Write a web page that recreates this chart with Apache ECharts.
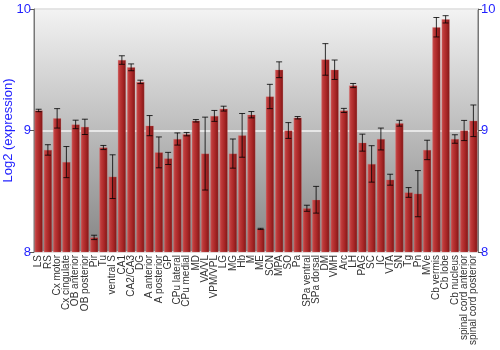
<!DOCTYPE html>
<html><head><meta charset="utf-8">
<script src="https://cdn.jsdelivr.net/npm/echarts@6/dist/echarts.min.js"></script>
<style>html,body{margin:0;padding:0;background:#fff}#c{width:500px;height:350px}</style>
</head><body><div id="c"></div>
<script>
var categories = ["LS","RS","Cx motor","Cx cingulate","OB anterior","OB posterior","Pir","Tu","ventral S","CA1","CA2/CA3","DG","A anterior","A posterior","GP","CPu lateral","CPu medial","MD","VA/VL","VPM/VPL","LG","MG","Hb","M","ME","SCN","MPA","SO","Pa","SPa ventral","SPa dorsal","DM","VMH","Arc","LH","PAG","SC","IC","VTA","SN","Tg","Pn","MVe","Cb vermis","Cb lobe","Cb nucleus","spinal cord anterior","spinal cord posterior"];
var values = [9.165,8.84,9.10,8.74,9.05,9.03,8.12,8.86,8.62,9.58,9.52,9.40,9.04,8.82,8.77,8.93,8.97,9.08,8.81,9.12,9.18,8.81,8.96,9.13,8.19,9.28,9.50,9.00,9.105,8.36,8.43,9.585,9.50,9.165,9.37,8.90,8.725,8.93,8.595,9.06,8.49,8.48,8.84,9.85,9.915,8.93,9.00,9.08];
var errors = [0.01,0.043,0.08,0.128,0.035,0.063,0.018,0.017,0.18,0.035,0.028,0.014,0.083,0.127,0.05,0.05,0.014,0.01,0.30,0.045,0.02,0.12,0.18,0.026,0.005,0.10,0.065,0.065,0.01,0.025,0.11,0.13,0.08,0.017,0.017,0.07,0.15,0.09,0.045,0.024,0.04,0.19,0.08,0.08,0.03,0.035,0.083,0.13];
var yTicks = [8, 9, 10];

var chart = echarts.init(document.getElementById('c'), null, {renderer:'canvas'});
var errData = values.map(function(v,i){ return [i, v - errors[i], v + errors[i]]; });
var blue = '#1f1fff';
var yAxisCommon = {
  type:'value', min:yTicks[0], max:yTicks[yTicks.length-1], interval:1,
  axisLine:{show:true, lineStyle:{color:'#777', width:1}},
  axisTick:{show:true, length:4, lineStyle:{color:'#555'}},
  axisLabel:{color:blue, fontSize:13, fontFamily:'Liberation Sans', margin:3},
  splitLine:{show:false}
};
chart.setOption({
  animation:false,
  grid:{left:34, right:22, top:9, bottom:98, show:true, borderColor:'#777', borderWidth:1,
    outerBoundsMode:'none', containLabel:false,
    backgroundColor:new echarts.graphic.LinearGradient(0,0,0,1,[{offset:0,color:'#f3f3f3'},{offset:1,color:'#858585'}])},
  xAxis:{type:'category', data:categories,
    axisLine:{show:false}, axisTick:{show:false},
    axisLabel:{interval:0, rotate:90, fontSize:10, color:'#333', fontFamily:'Liberation Sans', margin:3}},
  yAxis:[
    Object.assign({}, yAxisCommon, {position:'left', name:'Log2 (expression)', nameLocation:'middle', nameGap:19,
      nameMoveOverlap:false,
      nameTextStyle:{color:blue, fontSize:13, fontFamily:'Liberation Sans'},
      splitLine:{show:true, lineStyle:{color:'#f4f4f4', width:1.5}}}),
    Object.assign({}, yAxisCommon, {position:'right'})
  ],
  series:[
    {type:'bar', data:values, barCategoryGap:'12%', yAxisIndex:0,
      itemStyle:{color:new echarts.graphic.LinearGradient(0,0,1,0,[
        {offset:0,color:'#cc5555'},{offset:0.25,color:'#bc3838'},{offset:0.6,color:'#a82626'},{offset:1,color:'#7e1616'}]),
        borderColor:'rgba(220,120,120,0.5)', borderWidth:0.5}},
    {type:'custom', data:errData, yAxisIndex:0, z:5,
      renderItem:function(params, api){
        var x = api.value(0);
        var lo = api.coord([x, api.value(1)]);
        var hi = api.coord([x, api.value(2)]);
        var cx = lo[0], w = 3;
        var st = {stroke:'rgba(0,0,0,0.8)', lineWidth:1};
        return {type:'group', children:[
          {type:'line', shape:{x1:cx,y1:lo[1],x2:cx,y2:hi[1]}, style:st},
          {type:'line', shape:{x1:cx-w,y1:lo[1],x2:cx+w,y2:lo[1]}, style:st},
          {type:'line', shape:{x1:cx-w,y1:hi[1],x2:cx+w,y2:hi[1]}, style:st}
        ]};
      }}
  ]
});
</script></body></html>
